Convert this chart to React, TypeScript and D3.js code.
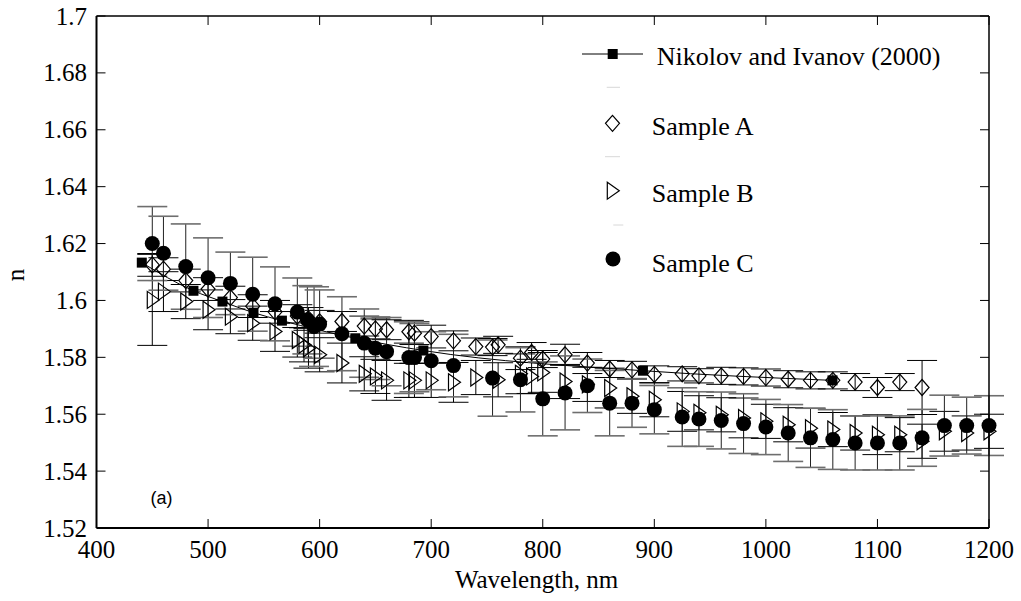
import React from "react";
import * as d3 from "d3";

// ---- data ----
const xTicks = [400, 500, 600, 700, 800, 900, 1000, 1100, 1200];
const yTicks = [1.52, 1.54, 1.56, 1.58, 1.6, 1.62, 1.64, 1.66, 1.68, 1.7];
const yTickLabels = ["1.52", "1.54", "1.56", "1.58", "1.6", "1.62", "1.64", "1.66", "1.68", "1.7"];

const nikolovWl = [440.6, 486.9, 512.9, 540.7, 566.2, 632, 693, 889.8, 1059.7];
const nikolovN = [1.6133, 1.6034, 1.5996, 1.5957, 1.5929, 1.5867, 1.5824, 1.5753, 1.5719];

const aWl = [450, 460, 480, 500, 520, 540, 560, 580, 590, 600, 620, 640, 650, 660, 680, 685, 700, 720, 740, 755, 760, 780, 790, 800, 820, 840, 860, 880, 900, 925, 940, 960, 980, 1000, 1020, 1040, 1060, 1080, 1100, 1120, 1140];
const aN = [1.6125, 1.611, 1.607, 1.604, 1.601, 1.598, 1.596, 1.5945, 1.5935, 1.5925, 1.5926, 1.591, 1.59, 1.5897, 1.589, 1.5885, 1.5873, 1.5858, 1.5838, 1.5836, 1.5844, 1.5797, 1.5817, 1.5794, 1.5809, 1.578, 1.5759, 1.5756, 1.574, 1.5742, 1.5735, 1.5735, 1.5733, 1.5729, 1.5723, 1.5719, 1.5719, 1.5713, 1.5694, 1.5713, 1.5694];
const aErr = [0.004, 0.004, 0.004, 0.004, 0.004, 0.004, 0.004, 0.004, 0.004, 0.004, 0.0035, 0.0035, 0.0035, 0.0035, 0.004, 0.004, 0.004, 0.0035, 0.003, 0.003, 0.003, 0.004, 0.0035, 0.003, 0.0037, 0.0037, 0.003, 0.003, 0.003, 0.0025, 0.0025, 0.003, 0.003, 0.003, 0.003, 0.003, 0.003, 0.003, 0.0035, 0.003, 0.0095];

const bWl = [450, 460, 480, 500, 520, 540, 560, 580, 586, 590, 600, 620, 640, 650, 660, 680, 685, 700, 720, 740, 760, 780, 790, 800, 820, 840, 860, 880, 900, 925, 940, 960, 980, 1000, 1020, 1040, 1060, 1080, 1100, 1120, 1140, 1160, 1180, 1200];
const bN = [1.6002, 1.6031, 1.5996, 1.5967, 1.5943, 1.592, 1.5891, 1.5861, 1.5844, 1.5832, 1.5809, 1.578, 1.5742, 1.5733, 1.5719, 1.5719, 1.5719, 1.5719, 1.5712, 1.5729, 1.5721, 1.5742, 1.5733, 1.5747, 1.5715, 1.5705, 1.5692, 1.5663, 1.5651, 1.561, 1.5605, 1.5598, 1.5587, 1.5575, 1.5563, 1.5551, 1.5546, 1.5534, 1.5528, 1.5528, 1.5505, 1.554, 1.5534, 1.554];
const bErr = [0.016, 0.007, 0.006, 0.007, 0.006, 0.006, 0.007, 0.006, 0.006, 0.007, 0.006, 0.007, 0.006, 0.006, 0.007, 0.006, 0.006, 0.006, 0.007, 0.006, 0.006, 0.007, 0.006, 0.007, 0.006, 0.006, 0.007, 0.006, 0.006, 0.007, 0.006, 0.006, 0.007, 0.006, 0.006, 0.007, 0.006, 0.006, 0.007, 0.006, 0.006, 0.007, 0.006, 0.006];

const cWl = [450, 460, 480, 500, 520, 540, 560, 580, 589, 595, 600, 620, 640, 650, 660, 680, 685, 700, 720, 755, 780, 800, 820, 840, 860, 880, 900, 925, 940, 960, 980, 1000, 1020, 1040, 1060, 1080, 1100, 1120, 1140, 1160, 1180, 1200];
const cN = [1.62, 1.6166, 1.6119, 1.608, 1.606, 1.6022, 1.5988, 1.5959, 1.5932, 1.5908, 1.5917, 1.5883, 1.585, 1.5832, 1.582, 1.5799, 1.5799, 1.5788, 1.5771, 1.5727, 1.5721, 1.5654, 1.5675, 1.57, 1.5639, 1.5639, 1.5616, 1.559, 1.5583, 1.5578, 1.5567, 1.5555, 1.5534, 1.5517, 1.5511, 1.5499, 1.5499, 1.5499, 1.5517, 1.556, 1.556, 1.556];
const cErr = [0.013, 0.013, 0.015, 0.014, 0.011, 0.013, 0.013, 0.012, 0.012, 0.014, 0.012, 0.013, 0.012, 0.011, 0.012, 0.0126, 0.012, 0.0102, 0.011, 0.0134, 0.0113, 0.013, 0.013, 0.0094, 0.0115, 0.0085, 0.0085, 0.0103, 0.0096, 0.01, 0.0105, 0.0097, 0.01, 0.0104, 0.0105, 0.0095, 0.0095, 0.0095, 0.01, 0.0107, 0.01, 0.0105];

const legendLabels = ["Nikolov and Ivanov (2000)", "Sample A", "Sample B", "Sample C"];

// ---- layout ----
const W = 1021, H = 601;
const L = 96.5, R = 989, T = 16, B = 528;
const x = d3.scaleLinear().domain([400, 1200]).range([L, R]);
const y = d3.scaleLinear().domain([1.52, 1.7]).range([B, T]);
const serif = "'Liberation Serif', 'Times New Roman', Times, serif";
const CAP = 15;
const TICK = 9;

const diamondPath = "M0,-8L7,0L0,8L-7,0Z";
const trianglePath = "M-5,-8.5L7,0L-5,8.5Z";

function ErrorBars({ wl, n, err, stroke, capStroke, capWidth }: any) {
  return (
    <g>
      {wl.map((w: number, i: number) => {
        const cx = x(w);
        const y1 = y(n[i] + err[i]);
        const y2 = y(n[i] - err[i]);
        return (
          <g key={i}>
            <line x1={cx} x2={cx} y1={y1} y2={y2} stroke={stroke} strokeWidth={1} />
            <line x1={cx - CAP} x2={cx + CAP} y1={y1} y2={y1} stroke={capStroke} strokeWidth={capWidth} />
            <line x1={cx - CAP} x2={cx + CAP} y1={y2} y2={y2} stroke={capStroke} strokeWidth={capWidth} />
          </g>
        );
      })}
    </g>
  );
}

export default function App() {
  const nikPts = nikolovWl.map((w, i) => [w, nikolovN[i]] as [number, number]);
  const line = d3
    .line<[number, number]>()
    .x((d) => x(d[0]))
    .y((d) => y(d[1]))
    .curve(d3.curveMonotoneX);

  return (
    <svg
      width={W}
      height={H}
      viewBox={`0 0 ${W} ${H}`}
      style={{ position: "absolute", left: 0, top: 0, background: "#fff" }}
    >
      <rect x={0} y={0} width={W} height={H} fill="#fff" />

      {/* ticks */}
      {xTicks.map((t) => (
        <g key={"xt" + t}>
          <line x1={x(t)} x2={x(t)} y1={B} y2={B - TICK} stroke="#000" strokeWidth={1} />
          <line x1={x(t)} x2={x(t)} y1={T} y2={T + TICK} stroke="#000" strokeWidth={1} />
          <text x={x(t)} y={558} textAnchor="middle" fontFamily={serif} fontSize={25} fill="#000">
            {t}
          </text>
        </g>
      ))}
      {yTicks.map((t, i) => (
        <g key={"yt" + t}>
          <line x1={L} x2={L + TICK} y1={y(t)} y2={y(t)} stroke="#000" strokeWidth={1} />
          <line x1={R} x2={R - TICK} y1={y(t)} y2={y(t)} stroke="#000" strokeWidth={1} />
          <text x={87} y={y(t) + 8.5} textAnchor="end" fontFamily={serif} fontSize={25} fill="#000">
            {yTickLabels[i]}
          </text>
        </g>
      ))}

      {/* data */}
      <path d={line(nikPts) || ""} fill="none" stroke="#000" strokeWidth={1} />
      <ErrorBars wl={aWl} n={aN} err={aErr} stroke="#000" capStroke="#000" capWidth={1} />
      <ErrorBars wl={bWl} n={bN} err={bErr} stroke="#000" capStroke="#000" capWidth={1} />
      <ErrorBars wl={cWl} n={cN} err={cErr} stroke="#222" capStroke="#6e6e6e" capWidth={1.6} />

      {aWl.map((w, i) => (
        <path key={"a" + i} d={diamondPath} transform={`translate(${x(w)},${y(aN[i])})`} fill="none" stroke="#000" strokeWidth={1.2} />
      ))}
      {bWl.map((w, i) => (
        <path key={"b" + i} d={trianglePath} transform={`translate(${x(w)},${y(bN[i])})`} fill="none" stroke="#000" strokeWidth={1.2} />
      ))}
      {cWl.map((w, i) => (
        <circle key={"c" + i} cx={x(w)} cy={y(cN[i])} r={7.5} fill="#000" />
      ))}
      {nikolovWl.map((w, i) => (
        <rect key={"n" + i} x={x(w) - 5} y={y(nikolovN[i]) - 5} width={10} height={10} fill="#000" />
      ))}

      {/* frame */}
      <line x1={L} x2={R} y1={T} y2={T} stroke="#000" strokeWidth={1.3} />
      <line x1={R} x2={R} y1={T} y2={B} stroke="#000" strokeWidth={1.5} />
      <line x1={L} x2={L} y1={T} y2={B} stroke="#000" strokeWidth={2} />
      <line x1={L} x2={R} y1={B} y2={B} stroke="#000" strokeWidth={2} />

      {/* axis titles */}
      <text x={536.5} y={588} textAnchor="middle" fontFamily={serif} fontSize={25} fill="#000">
        Wavelength, nm
      </text>
      <text transform="translate(23.5,275) rotate(-90)" textAnchor="middle" fontFamily={serif} fontSize={25} fill="#000">
        n
      </text>
      <text x={161.5} y={504} textAnchor="middle" fontFamily="'Liberation Sans', Arial, sans-serif" fontSize={18} fill="#000">
        (a)
      </text>

      {/* legend */}
      <line x1={582} x2={643} y1={54} y2={54} stroke="#000" strokeWidth={1} />
      <rect x={612.7 - 5} y={54 - 5} width={10} height={10} fill="#000" />
      <text x={656.7} y={65} fontFamily={serif} fontSize={26} fill="#000">{legendLabels[0]}</text>

      <line x1={606.7} x2={620} y1={87.3} y2={87.3} stroke="#d8d8d8" strokeWidth={1} />
      <path d={diamondPath} transform="translate(612.5,123.3)" fill="none" stroke="#000" strokeWidth={1.2} />
      <text x={651.7} y={135} fontFamily={serif} fontSize={26} fill="#000">{legendLabels[1]}</text>

      <line x1={605} x2={620} y1={156.7} y2={156.7} stroke="#d8d8d8" strokeWidth={1} />
      <path d={trianglePath} transform="translate(612.3,190.7)" fill="none" stroke="#000" strokeWidth={1.2} />
      <text x={651.7} y={202.3} fontFamily={serif} fontSize={26} fill="#000">{legendLabels[2]}</text>

      <line x1={613.3} x2={623.3} y1={225} y2={225} stroke="#d8d8d8" strokeWidth={1} />
      <circle cx={613} cy={259} r={7.5} fill="#000" />
      <text x={651.7} y={271.7} fontFamily={serif} fontSize={26} fill="#000">{legendLabels[3]}</text>
    </svg>
  );
}
